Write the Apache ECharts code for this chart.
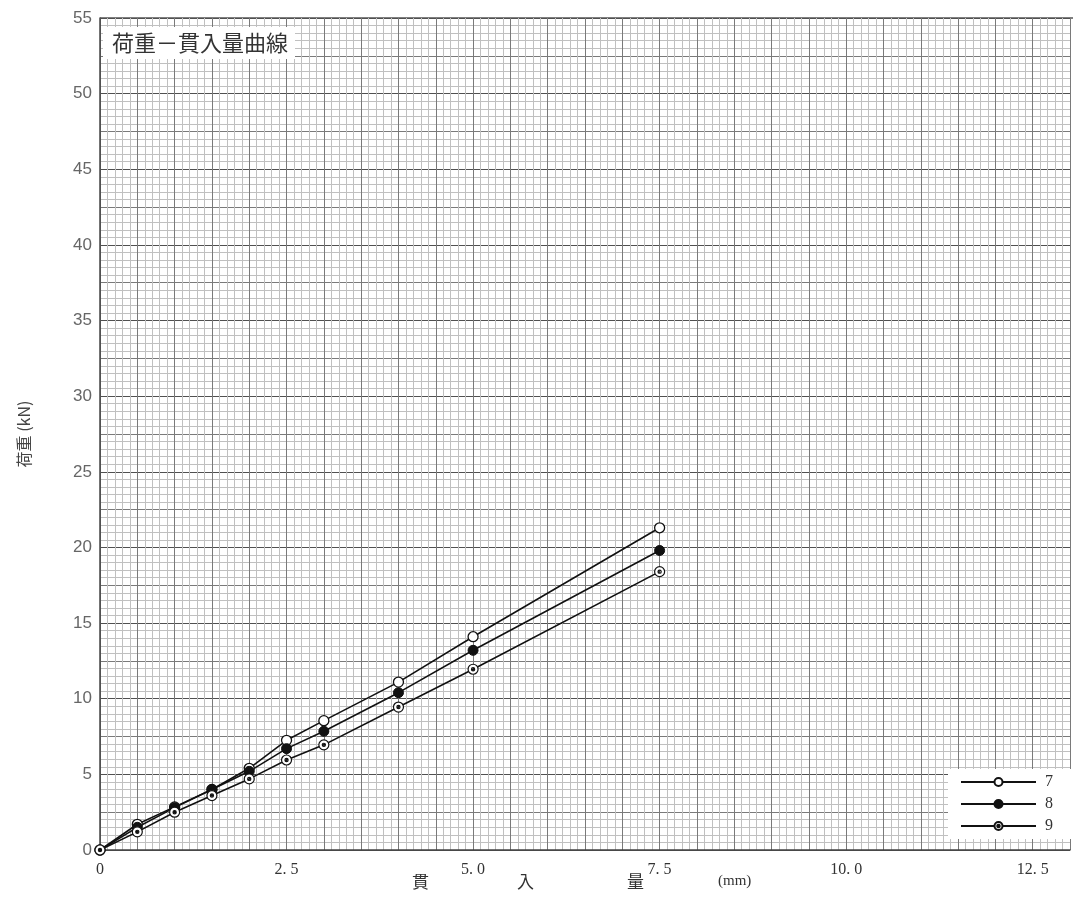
<!DOCTYPE html>
<html>
<head>
<meta charset="utf-8">
<script src="https://cdn.jsdelivr.net/npm/echarts@6/dist/echarts.min.js"></script>
<style>html,body{margin:0;padding:0;background:#fff;}#c{width:1073px;height:915px;}</style>
</head>
<body>
<div id="c"></div>
<script>
const xValues = [0, 0.5, 1.0, 1.5, 2.0, 2.5, 3.0, 4.0, 5.0, 7.5];
const s7 = [0, 1.7, 2.85, 4.0, 5.4, 7.25, 8.55, 11.1, 14.1, 21.3];
const s8 = [0, 1.5, 2.8, 4.0, 5.2, 6.7, 7.85, 10.4, 13.2, 19.8];
const s9 = [0, 1.2, 2.5, 3.6, 4.7, 5.95, 6.95, 9.45, 11.95, 18.4];
const seriesNames = ['7', '8', '9'];
const xTickLabels = ['0', '2. 5', '5. 0', '7. 5', '10. 0', '12. 5'];
const yTickLabels = ['0','5','10','15','20','25','30','35','40','45','50','55'];

const pair = arr => xValues.map((x, i) => [x, arr[i]]);
const dotCircle = 'path://M0,-10A10,10 0 1,1 0,10A10,10 0 1,1 0,-10Z M0,-3.2A3.2,3.2 0 1,0 0,3.2A3.2,3.2 0 1,0 0,-3.2Z';

const chart = echarts.init(document.getElementById('c'));
const lineStyle = {color: '#111', width: 1.6};
chart.setOption({
  animation: false,
  backgroundColor: '#fff',
  title: {
    text: '荷重－貫入量曲線',
    left: 103, top: 27,
    backgroundColor: '#fff',
    padding: [5, 7, 5, 9],
    textStyle: {fontFamily: 'Noto Sans CJK JP', fontSize: 22, fontWeight: 'normal', color: '#333'}
  },
  legend: {
    orient: 'vertical',
    left: 948, top: 769,
    backgroundColor: '#fff',
    padding: [4, 22, 4, 12],
    itemWidth: 75, itemHeight: 10, itemGap: 4,
    data: seriesNames,
    textStyle: {fontFamily: 'Liberation Serif', fontSize: 16, color: '#333', padding: [0, 0, 0, 4], lineHeight: 18}
  },
  grid: {left: 100, top: 18, width: 982.8, height: 832, containLabel: false},
  xAxis: [{
    type: 'value', min: 0, max: 13, interval: 0.5,
    axisLine: {show: true, lineStyle: {color: '#444', width: 1.5}},
    axisTick: {show: false},
    axisLabel: {
      margin: 12,
      fontFamily: 'Liberation Serif', fontSize: 16, color: '#333',
      formatter: v => {
        const k = v / 2.5;
        if (Math.abs(k - Math.round(k)) > 1e-6) return '';
        return xTickLabels[Math.round(k)] || '';
      }
    },
    splitLine: {show: true, lineStyle: {color: '#7a7a7a', width: 1}},
    minorTick: {show: false, splitNumber: 5},
    minorSplitLine: {show: true, lineStyle: {color: '#c0c0c0', width: 1}}
  }],
  yAxis: [{
    type: 'value', min: 0, max: 55, interval: 2.5,
    name: '荷重 (kN)', nameLocation: 'middle', nameGap: 68, nameRotate: 90,
    nameTextStyle: {fontFamily: 'Noto Sans CJK JP', fontSize: 16, color: '#444'},
    axisLine: {show: true, lineStyle: {color: '#444', width: 1.5}},
    axisTick: {show: false},
    axisLabel: {
      margin: 8,
      fontFamily: 'Liberation Sans', fontSize: 17, color: '#666',
      formatter: v => {
        const k = v / 5;
        if (Math.abs(k - Math.round(k)) > 1e-6) return '';
        return yTickLabels[Math.round(k)] || '';
      }
    },
    splitLine: {show: true, lineStyle: {color: '#7a7a7a', width: 1}},
    minorTick: {show: false, splitNumber: 5},
    minorSplitLine: {show: true, lineStyle: {color: '#c0c0c0', width: 1}}
  }, {
    type: 'value', min: 0, max: 55, interval: 5, position: 'left',
    axisLine: {show: false}, axisTick: {show: false}, axisLabel: {show: false},
    splitLine: {show: true, lineStyle: {color: '#505050', width: 1.2}}
  }],
  graphic: [
    {type: 'line', shape: {x1: 100, y1: 18, x2: 1073, y2: 18}, style: {stroke: '#555', lineWidth: 1.5}},
    {type: 'text', left: 412, top: 873, style: {text: '貫', font: '17px "Noto Sans CJK JP"', fill: '#333'}},
    {type: 'text', left: 517, top: 873, style: {text: '入', font: '17px "Noto Sans CJK JP"', fill: '#333'}},
    {type: 'text', left: 627, top: 873, style: {text: '量', font: '17px "Noto Sans CJK JP"', fill: '#333'}},
    {type: 'text', left: 718, top: 874, style: {text: '(mm)', font: '15px "Liberation Serif"', fill: '#333'}}
  ],
  series: [
    {name: '7', type: 'line', data: pair(s7), symbol: 'circle', symbolSize: 10,
     itemStyle: {color: '#fff', borderColor: '#111', borderWidth: 1.3}, lineStyle: lineStyle, z: 5},
    {name: '8', type: 'line', data: pair(s8), symbol: 'circle', symbolSize: 10,
     itemStyle: {color: '#111', borderColor: '#111', borderWidth: 1}, lineStyle: lineStyle, z: 5},
    {name: '9', type: 'line', data: pair(s9), symbol: dotCircle, symbolSize: 10,
     itemStyle: {color: '#fff', borderColor: '#111', borderWidth: 1.2}, lineStyle: lineStyle, z: 5}
  ]
});
</script>
</body>
</html>
